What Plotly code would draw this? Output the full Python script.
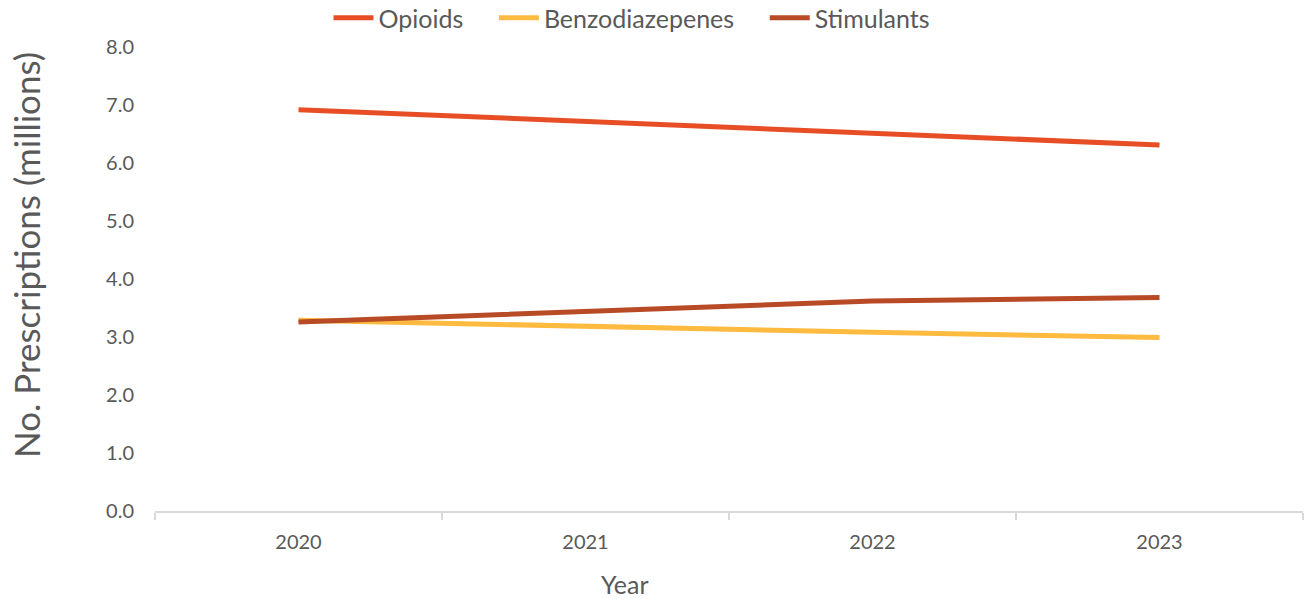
import plotly.graph_objects as go

years = ["2020", "2021", "2022", "2023"]
opioids = [6.92, 6.72, 6.51, 6.31]
benzodiazepenes = [3.29, 3.18, 3.08, 2.99]
stimulants = [3.26, 3.45, 3.62, 3.68]

series_names = ["Opioids", "Benzodiazepenes", "Stimulants"]
series_values = [opioids, benzodiazepenes, stimulants]
colors = ["#E84E25", "#FFBA40", "#B84A26"]

FONT = "Lato, 'Open Sans', sans-serif"
GREY = "#595959"
PAD = "\u00a0" * 4

fig = go.Figure()
for i, (name, vals, c) in enumerate(zip(series_names, series_values, colors)):
    label = name + (PAD if i < len(series_names) - 1 else "")
    fig.add_trace(go.Scatter(x=years, y=vals, name=label, mode="lines",
                             line=dict(color=c, width=5)))

plot_l, plot_r, plot_t, plot_b = 155, 1303, 47, 511
def px_to_paper(xp, yp):
    return (xp - plot_l) / (plot_r - plot_l), (plot_b - yp) / (plot_b - plot_t)

lx, ly = px_to_paper(632, 18)

fig.update_layout(
    width=1305, height=599,
    margin=dict(l=155, r=2, t=47, b=88, autoexpand=False),
    plot_bgcolor="white", paper_bgcolor="white",
    font=dict(family=FONT, color=GREY),
    showlegend=True,
    legend=dict(orientation="h", x=lx, xanchor="center", y=ly, yanchor="middle",
                font=dict(size=25, color=GREY), traceorder="normal",
                itemwidth=40),
    xaxis=dict(type="category", range=[-0.5, 3.5], showgrid=False,
               showline=True, linecolor="#D9D9D9", linewidth=2,
               ticks="outside", tickson="boundaries", ticklen=7, tickcolor="#D9D9D9",
               tickwidth=2, tickfont=dict(size=20, color=GREY),
               ticklabelstandoff=12, zeroline=False),
    yaxis=dict(range=[0, 8], dtick=1, tickformat=".1f", showgrid=False,
               showline=False, zeroline=False, tickfont=dict(size=20, color=GREY),
               ticklabelstandoff=20),
)

xa, ya = px_to_paper(625, 584)
yx, yy = px_to_paper(26, 255)
fig.add_annotation(text="Year", x=xa, y=ya, xref="paper", yref="paper", showarrow=False,
                   xanchor="center", yanchor="middle", font=dict(size=25, color=GREY))
fig.add_annotation(text="No. Prescriptions (millions)", x=yx, y=yy, xref="paper", yref="paper",
                   showarrow=False, textangle=-90, xanchor="center", yanchor="middle",
                   font=dict(size=35, color=GREY))

fig.write_html("out.html")
